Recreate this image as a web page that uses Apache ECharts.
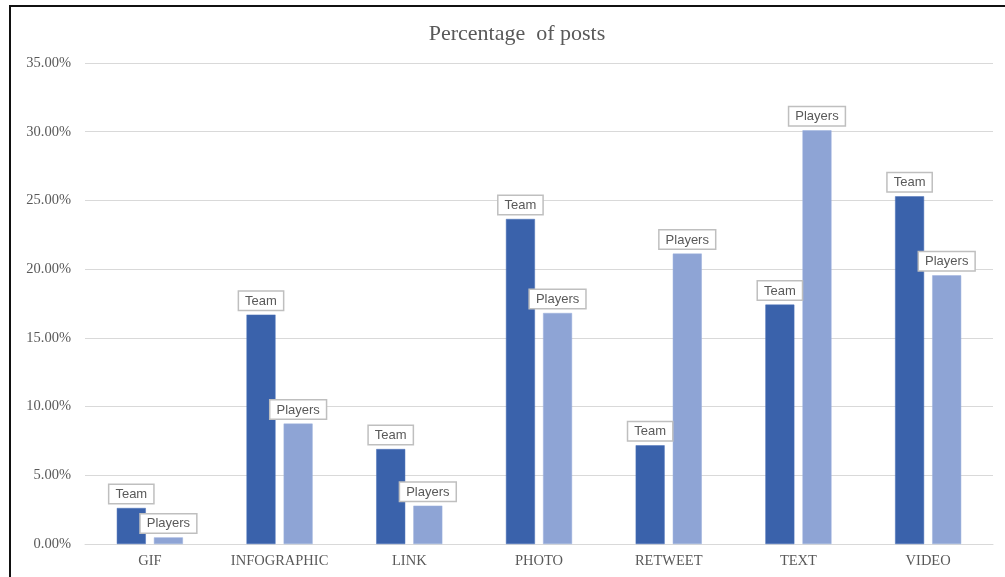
<!DOCTYPE html>
<html>
<head>
<meta charset="utf-8">
<script src="https://cdn.jsdelivr.net/npm/echarts@6/dist/echarts.min.js"></script>
<style>
  html, body { margin: 0; padding: 0; background: #fff; }
  #wrap { position: relative; width: 1005px; height: 577px; overflow: hidden; }
  #frame { position: absolute; left: 9px; top: 5px; width: 1100px; height: 700px;
           border-left: 2px solid #111; border-top: 2px solid #111; box-sizing: border-box; pointer-events: none; }
  #chart { position: absolute; left: 0; top: 0; width: 1005px; height: 577px; }
</style>
</head>
<body>
<div id="wrap">
  <div id="chart"></div>
  <div id="frame"></div>
</div>
<script>
// Share of posts by type, in percent
const categories = ['GIF', 'INFOGRAPHIC', 'LINK', 'PHOTO', 'RETWEET', 'TEXT', 'VIDEO'];
const teamValues = [2.62, 16.69, 6.91, 23.65, 7.18, 17.42, 25.30];
const playersValues = [0.48, 8.76, 2.79, 16.81, 21.13, 30.10, 19.55];
const yTicks = { min: 0, max: 35, interval: 5 };

const chart = echarts.init(document.getElementById('chart'), null, { renderer: 'canvas' });

const serif = 'Liberation Serif, Times New Roman, serif';

function boxLabel() {
  return {
    show: true,
    position: 'top',
    distance: 5,
    formatter: '{a}',
    color: '#595959',
    fontFamily: 'Liberation Sans, Arial, sans-serif',
    fontSize: 13,
    backgroundColor: '#fff',
    borderColor: '#bfbfbf',
    borderWidth: 1.5,
    padding: [3, 6, 2, 6]
  };
}

chart.setOption({
  animation: false,
  title: {
    text: 'Percentage  of posts',
    left: 512,
    top: 18,
    textAlign: 'center',
    textStyle: { fontFamily: serif, fontSize: 22, fontWeight: 'normal', color: '#595959' }
  },
  grid: { left: 85, right: 12, top: 63, bottom: 33, containLabel: false },
  xAxis: {
    type: 'category',
    data: categories,
    axisLine: { lineStyle: { color: '#d9d9d9', width: 1 } },
    axisTick: { show: false },
    axisLabel: { color: '#595959', fontFamily: serif, fontSize: 14.5, margin: 10, interval: 0, hideOverlap: false }
  },
  yAxis: {
    type: 'value',
    min: yTicks.min,
    max: yTicks.max,
    interval: yTicks.interval,
    axisLine: { show: false },
    axisTick: { show: false },
    splitLine: { lineStyle: { color: '#d9d9d9', width: 1 } },
    axisLabel: {
      color: '#595959',
      fontFamily: serif,
      fontSize: 14.5,
      margin: 14,
      formatter: v => v.toFixed(2) + '%'
    }
  },
  series: [
    {
      name: 'Team',
      type: 'bar',
      data: teamValues,
      barWidth: 29,
      barGap: '28%',
      itemStyle: { color: '#3a62ab', borderColor: '#4a70b8', borderWidth: 0.5 },
      label: boxLabel()
    },
    {
      name: 'Players',
      type: 'bar',
      data: playersValues,
      barWidth: 29,
      barGap: '28%',
      itemStyle: { color: '#8ea4d5', borderColor: '#9cb0dc', borderWidth: 0.5 },
      label: boxLabel()
    }
  ]
});
</script>
</body>
</html>
